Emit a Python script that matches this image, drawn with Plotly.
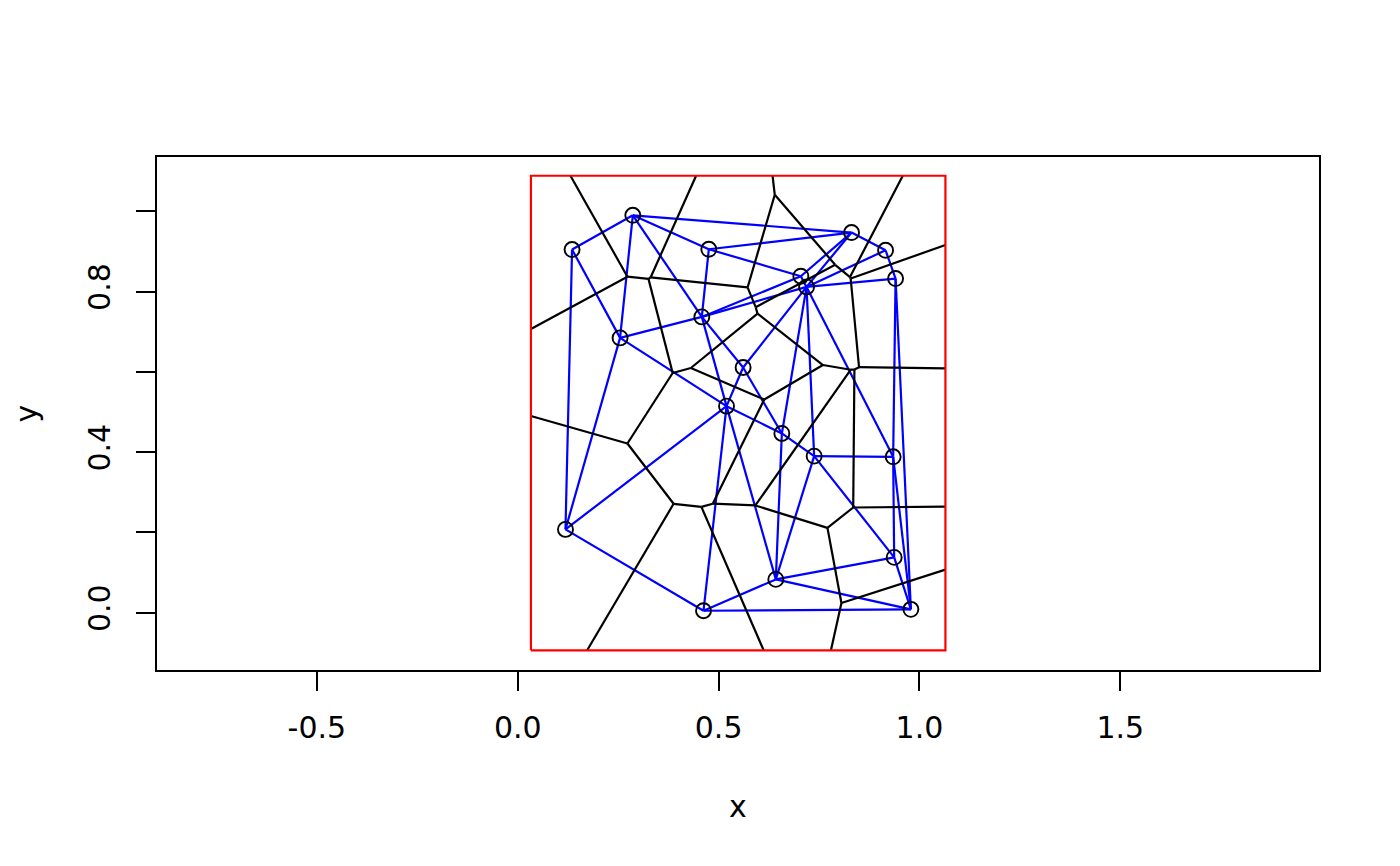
import itertools
import numpy as np
import plotly.graph_objects as go

# Point data
x_pts = [0.1352, 0.2864, 0.4756, 0.8309, 0.9156, 0.9405, 0.7047, 0.7189, 0.4582, 0.2547,
         0.5610, 0.5197, 0.6574, 0.7378, 0.9345, 0.1188, 0.9370, 0.6424, 0.4624, 0.9786]
y_pts = [0.9047, 0.9900, 0.9054, 0.9470, 0.9029, 0.8325, 0.8382, 0.8116, 0.7369, 0.6846,
         0.6109, 0.5146, 0.4466, 0.3901, 0.3884, 0.2076, 0.1379, 0.0831, 0.0050, 0.0085]
frac = 0.1  # window enlargement (deldir default)

x_ticks = [-0.5, 0.0, 0.5, 1.0, 1.5]
x_tick_text = ["-0.5", "0.0", "0.5", "1.0", "1.5"]
y_ticks = [0.0, 0.2, 0.4, 0.6, 0.8, 1.0]
y_tick_text = ["0.0", "", "0.4", "", "0.8", ""]

P = np.column_stack([x_pts, y_pts])
n = len(P)

# rectangular window
xmin, xmax = P[:, 0].min(), P[:, 0].max()
ymin, ymax = P[:, 1].min(), P[:, 1].max()
dx, dy = xmax - xmin, ymax - ymin
rw = (xmin - frac * dx, xmax + frac * dx, ymin - frac * dy, ymax + frac * dy)


def circumcenter(a, b, c):
    ax, ay = a
    bx, by = b
    cx, cy = c
    d = 2 * (ax * (by - cy) + bx * (cy - ay) + cx * (ay - by))
    if abs(d) < 1e-14:
        return None
    a2, b2, c2 = ax * ax + ay * ay, bx * bx + by * by, cx * cx + cy * cy
    ux = (a2 * (by - cy) + b2 * (cy - ay) + c2 * (ay - by)) / d
    uy = (a2 * (cx - bx) + b2 * (ax - cx) + c2 * (bx - ax)) / d
    return np.array([ux, uy])


# Delaunay triangulation (empty circumcircle test)
tris = []
centers = []
for i, j, k in itertools.combinations(range(n), 3):
    c = circumcenter(P[i], P[j], P[k])
    if c is None:
        continue
    r2 = np.sum((P[i] - c) ** 2)
    d2 = np.sum((P - c) ** 2, axis=1)
    d2[[i, j, k]] = np.inf
    if np.all(d2 > r2 * (1 + 1e-12)):
        tris.append((i, j, k))
        centers.append(c)

edges = {}
for t, (i, j, k) in enumerate(tris):
    for a, b, o in ((i, j, k), (j, k, i), (i, k, j)):
        key = (min(a, b), max(a, b))
        edges.setdefault(key, []).append((t, o))


def clip(p0, p1, box):
    x0, x1, y0, y1 = box
    ddx, ddy = p1[0] - p0[0], p1[1] - p0[1]
    t0, t1 = 0.0, 1.0
    for pp, qq in ((-ddx, p0[0] - x0), (ddx, x1 - p0[0]), (-ddy, p0[1] - y0), (ddy, y1 - p0[1])):
        if pp == 0:
            if qq < 0:
                return None
        else:
            r = qq / pp
            if pp < 0:
                t0 = max(t0, r)
            else:
                t1 = min(t1, r)
    if t0 > t1:
        return None
    return (p0[0] + t0 * ddx, p0[1] + t0 * ddy, p0[0] + t1 * ddx, p0[1] + t1 * ddy)


tri_x, tri_y = [], []
for (a, b) in edges:
    tri_x += [P[a, 0], P[b, 0], None]
    tri_y += [P[a, 1], P[b, 1], None]

vor_x, vor_y = [], []
for (a, b), lst in edges.items():
    if len(lst) == 2:
        p0, p1 = centers[lst[0][0]], centers[lst[1][0]]
    else:
        t, o = lst[0]
        p0 = centers[t]
        e = P[b] - P[a]
        nrm = np.array([-e[1], e[0]])
        if np.dot(nrm, P[o] - P[a]) > 0:
            nrm = -nrm
        p1 = p0 + nrm / np.linalg.norm(nrm) * 100.0
    seg = clip(p0, p1, rw)
    if seg is None:
        continue
    vor_x += [seg[0], seg[2], None]
    vor_y += [seg[1], seg[3], None]

fig = go.Figure()
fig.add_trace(go.Scatter(x=tri_x, y=tri_y, mode="lines",
                         line=dict(color="#0000ff", width=2.2), hoverinfo="skip"))
fig.add_trace(go.Scatter(x=vor_x, y=vor_y, mode="lines",
                         line=dict(color="black", width=2.2), hoverinfo="skip"))
fig.add_trace(go.Scatter(x=x_pts, y=y_pts, mode="markers",
                         marker=dict(symbol="circle-open", size=15, color="black",
                                     line=dict(width=1.9, color="black"))))
fig.add_trace(go.Scatter(x=[rw[0], rw[1], rw[1], rw[0], rw[0]],
                         y=[rw[2], rw[2], rw[3], rw[3], rw[2]], mode="lines",
                         line=dict(color="#ff0000", width=2.2), hoverinfo="skip"))

font = dict(family="DejaVu Sans", size=30, color="black")
fig.update_layout(
    width=1384, height=850,
    margin=dict(l=149, r=73, t=149, b=188),
    paper_bgcolor="white", plot_bgcolor="white",
    showlegend=False,
    font=font,
    xaxis=dict(range=[-0.898, 1.9945], showgrid=False, zeroline=False,
               showline=True, linecolor="black", linewidth=2, mirror=True,
               ticks="outside", ticklen=19, tickwidth=2, tickcolor="black",
               tickvals=x_ticks, ticktext=x_tick_text, tickfont=font,
               ticklabelstandoff=11,
               title=dict(text="x", font=font, standoff=52)),
    yaxis=dict(range=[-0.1426, 1.1352], showgrid=False, zeroline=False,
               showline=True, linecolor="black", linewidth=2, mirror=True,
               ticks="outside", ticklen=19, tickwidth=2, tickcolor="black",
               tickvals=y_ticks, ticktext=y_tick_text, tickfont=font,
               tickangle=-90, ticklabelstandoff=14,
               title=dict(text="y", font=font, standoff=36)),
)
fig.write_html("out.html")
